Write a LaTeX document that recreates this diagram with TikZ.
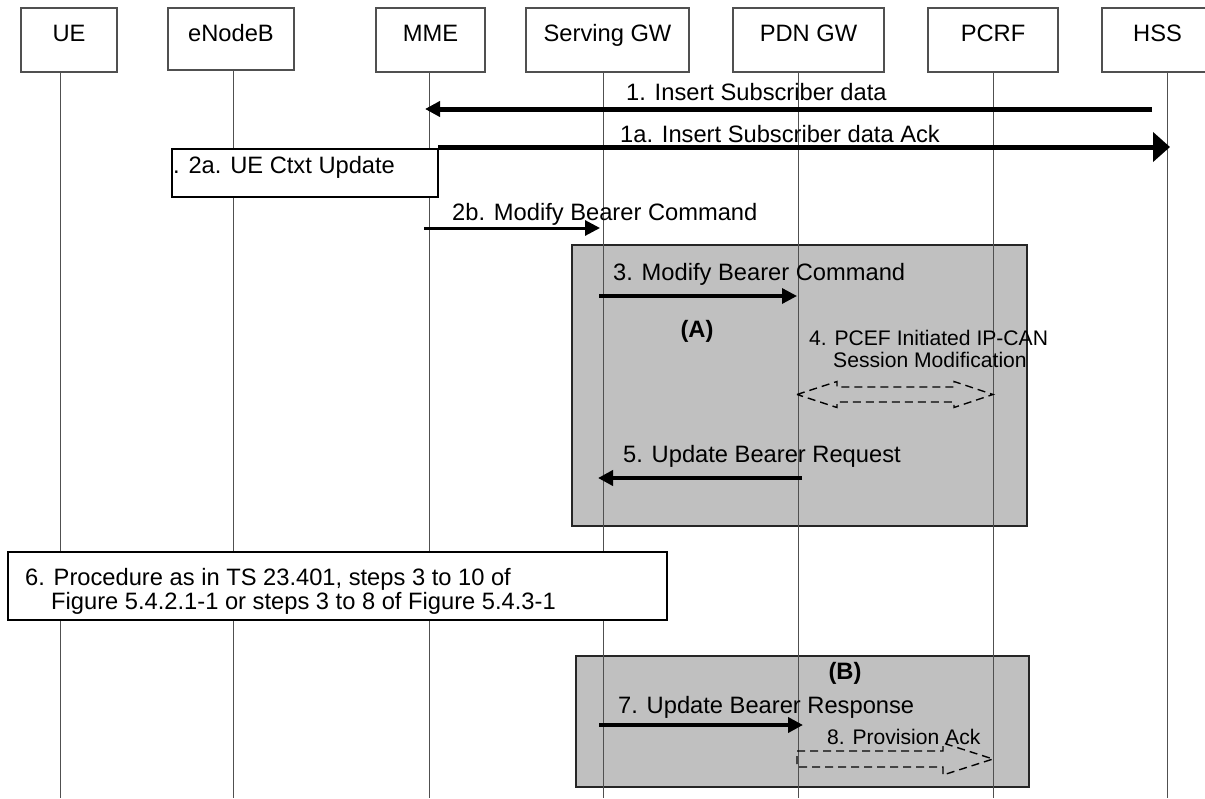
\documentclass[tikz,border=0pt]{standalone}
\usepackage{fontspec}
\setmainfont{Liberation Sans}
\usepackage{tikz}
\usetikzlibrary{arrows.meta}
\definecolor{boxgray}{HTML}{C0C0C0}
\definecolor{linegray}{HTML}{505050}

\begin{document}
\begin{tikzpicture}[x=1pt,y=-1pt,
  every node/.style={inner sep=0pt,font=\fontsize{23.7}{28}\selectfont},
  entity/.style={draw=linegray,line width=1.2pt,text height=33pt,text depth=31pt,anchor=base},
  note/.style={draw,line width=1.2pt,fill=white},
  region/.style={draw=black!85,line width=1.2pt,fill=boxgray},
  life/.style={linegray,line width=1pt},
  msg/.style={-{Triangle[length=15pt,width=15pt]},line width=4pt},
  lbl/.style={anchor=base west},
  small/.style={anchor=base west,font=\fontsize{21.1}{24}\selectfont},
  tag/.style={anchor=base,font=\fontsize{23.7}{28}\selectfont\bfseries},
  dmsg/.style={dash pattern=on 8pt off 5pt,line width=1.4pt}
]
\clip (0,0) rectangle (1205,798);
% Grey regions (A) and (B)
\node[region,minimum width=455pt,minimum height=281pt] (regA) at (799.5,385.5) {};
\node[region,minimum width=453pt,minimum height=131pt] (regB) at (802.5,721.5) {};
% Entities (header row)
\node[entity,minimum width=96pt] (ue) at (69,41) {UE};
\node[entity,minimum width=126pt,text depth=29pt] (enb) at (231,41) {eNodeB};
\node[entity,minimum width=109pt] (mme) at (430.5,41) {MME};
\node[entity,minimum width=163pt] (sgw) at (607.5,41) {Serving GW};
\node[entity,minimum width=151pt] (pgw) at (808.5,41) {PDN GW};
\node[entity,minimum width=130pt] (pcrf) at (993,41) {PCRF};
\node[entity,minimum width=111pt] (hss) at (1157.5,41) {HSS};
% Lifelines
\coordinate (ue-t) at (60,72);    \coordinate (ue-b) at (60,798);
\coordinate (enb-t) at (233,70);  \coordinate (enb-b) at (233,798);
\coordinate (mme-t) at (429,72);  \coordinate (mme-b) at (429,798);
\coordinate (sgw-t) at (603,72);  \coordinate (sgw-b) at (603,798);
\coordinate (pgw-t) at (798,72);  \coordinate (pgw-b) at (798,798);
\coordinate (pcrf-t) at (993,72); \coordinate (pcrf-b) at (993,798);
\coordinate (hss-t) at (1167,72); \coordinate (hss-b) at (1167,798);
\draw[life] (ue-t) -- (ue-b);
\draw[life] (enb-t) -- (enb-b);
\draw[life] (mme-t) -- (mme-b);
\draw[life] (sgw-t) -- (sgw-b);
\draw[life] (pgw-t) -- (pgw-b);
\draw[life] (pcrf-t) -- (pcrf-b);
\draw[life] (hss-t) -- (hss-b);
% Notes over lifelines
\node[note,minimum width=266pt,minimum height=48pt] (ctxt) at (305,173) {};
\node[note,minimum width=659pt,minimum height=68pt] (proc) at (337.5,586) {};
% Message end points
\coordinate (m1s) at (1152,109);  \coordinate (m1e) at (425,109);
\coordinate (m1as) at (438,147);  \coordinate (m1ae) at (1170,147);
\coordinate (m2bs) at (424,228);  \coordinate (m2be) at (600,228);
\coordinate (m3s) at (599,296);   \coordinate (m3e) at (797,296);
\coordinate (m5s) at (802,478);   \coordinate (m5e) at (598,478);
\coordinate (m7s) at (599,725);   \coordinate (m7e) at (803,725);
% Messages
\draw[msg,line width=5pt] (m1s) -- (m1e);
\draw[msg,line width=5pt,-{Triangle[length=17pt,width=29pt]}] (m1as) -- (m1ae);
\draw[msg,line width=3pt] (m2bs) -- (m2be);
\draw[msg,line width=3.3pt] (m3s) -- (m3e);
\draw[msg] (m5s) -- (m5e);
\draw[msg] (m7s) -- (m7e);
% Dashed block arrows (4 and 8)
\coordinate (d4) at (797,394.5);
\coordinate (d8) at (797,751);
\draw[dmsg] (d4) -- ++(40,-13) -- ++(0,5.5) -- ++(117,0) -- ++(0,-5.5) -- ++(39,13)
  -- ++(-39,13) -- ++(0,-5.5) -- ++(-117,0) -- ++(0,5.5) -- cycle;
\draw[dmsg] (d8) -- ++(146,0) -- ++(0,-8) -- ++(50,16) -- ++(-50,16) -- ++(0,-8)
  -- ++(-146,0) -- cycle;
% Labels
\node[lbl] (t1) at (626,100) {1. Insert Subscriber data};
\node[lbl] (t1a) at (620,142) {1a. Insert Subscriber data Ack};
\node[lbl] (t2a) at (173,173) {. 2a. UE Ctxt Update};
\node[lbl] (t2b) at (452,220) {2b. Modify Bearer Command};
\node[lbl] (t3) at (613,280) {3. Modify Bearer Command};
\node[tag] (tA) at (697,337) {(A)};
\node[small] (t4a) at (809,345) {4. PCEF Initiated IP-CAN};
\node[small] (t4b) at (833,367) {Session Modification};
\node[lbl] (t5) at (623,462) {5. Update Bearer Request};
\node[lbl] (t6a) at (25,585) {6. Procedure as in TS 23.401, steps 3 to 10 of};
\node[lbl] (t6b) at (51,609) {Figure 5.4.2.1-1 or steps 3 to 8 of Figure 5.4.3-1};
\node[tag] (tB) at (845,679) {(B)};
\node[lbl] (t7) at (618,713) {7. Update Bearer Response};
\node[small] (t8) at (827,744) {8. Provision Ack};
\end{tikzpicture}
\end{document}
